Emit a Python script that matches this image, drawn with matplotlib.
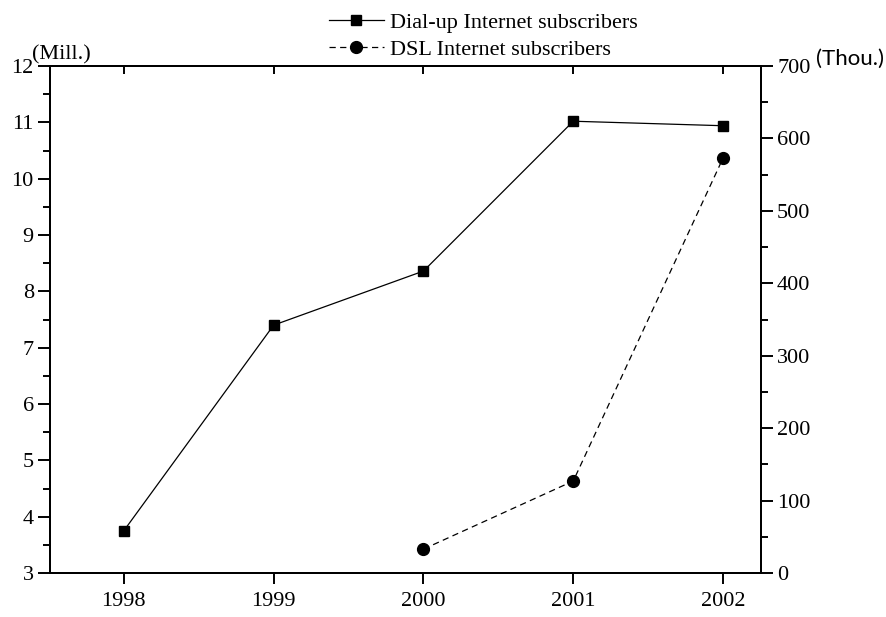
"""Dial-up vs DSL Internet subscribers, 1998-2002."""

import matplotlib
matplotlib.use("Agg")
import matplotlib.pyplot as plt
from matplotlib.ticker import MultipleLocator

years = [1998, 1999, 2000, 2001, 2002]
dialup_mill = [3.75, 7.40, 8.36, 11.02, 10.94]
dsl_years = [2000, 2001, 2002]
dsl_thou = [33, 127, 573]

plt.rcParams["font.family"] = ["Liberation Serif", "DejaVu Serif"]
FS = 16

fig = plt.figure(figsize=(8.86, 6.17), dpi=100)
ax = fig.add_axes([0.0564, 0.0713, 0.8025, 0.8217])
ax2 = ax.twinx()

l1, = ax.plot(years, dialup_mill, color="black", lw=0.9, marker="s", ms=7.5,
              label="Dial-up Internet subscribers")
l2, = ax2.plot(dsl_years, dsl_thou, color="black", lw=0.9, ls=(0, (5, 3.5)),
               marker="o", ms=8.5, label="DSL Internet subscribers")

ax.set_xlim(1997.507, 2002.253)
ax.set_ylim(3, 12)
ax2.set_ylim(0, 700)

ax.set_xticks(years)
ax.set_xticklabels([str(y) for y in years])
ax.yaxis.set_major_locator(MultipleLocator(1))
ax.yaxis.set_minor_locator(MultipleLocator(0.5))
ax2.yaxis.set_major_locator(MultipleLocator(100))
ax2.yaxis.set_minor_locator(MultipleLocator(50))

for a in (ax, ax2):
    for s in a.spines.values():
        s.set_linewidth(1.4)

ax.tick_params(axis="x", which="major", direction="out", length=8, width=1.4,
               labelsize=FS, pad=6, top=False)
ax.tick_params(axis="y", which="major", direction="out", length=8.6, width=1.4,
               labelsize=FS, pad=3)
ax.tick_params(axis="y", which="minor", direction="out", length=5, width=1.4)
ax2.tick_params(axis="y", which="major", direction="out", length=8.6, width=1.4,
                labelsize=FS, pad=3)
ax2.tick_params(axis="y", which="minor", direction="out", length=5, width=1.4)

# inward ticks on the top spine
top = ax.secondary_xaxis("top")
top.set_xticks(years)
top.tick_params(direction="in", length=6, width=1.4, labeltop=False)
top.spines["top"].set_linewidth(1.4)

fig.text(0.036, 0.896, "(Mill.)", fontsize=FS, ha="left", va="bottom")
fig.text(0.921, 0.904, "(Thou.)", fontsize=16, ha="left", va="center",
         family=["Lato", "DejaVu Sans"])

fig.legend(handles=[l1, l2], loc="upper left", bbox_to_anchor=(0.357, 1.0),
           frameon=False, fontsize=FS, handlelength=2.5, handletextpad=0.25,
           labelspacing=0.3, borderaxespad=0.15)

fig.savefig("out.png", dpi=100)
plt.close(fig)
